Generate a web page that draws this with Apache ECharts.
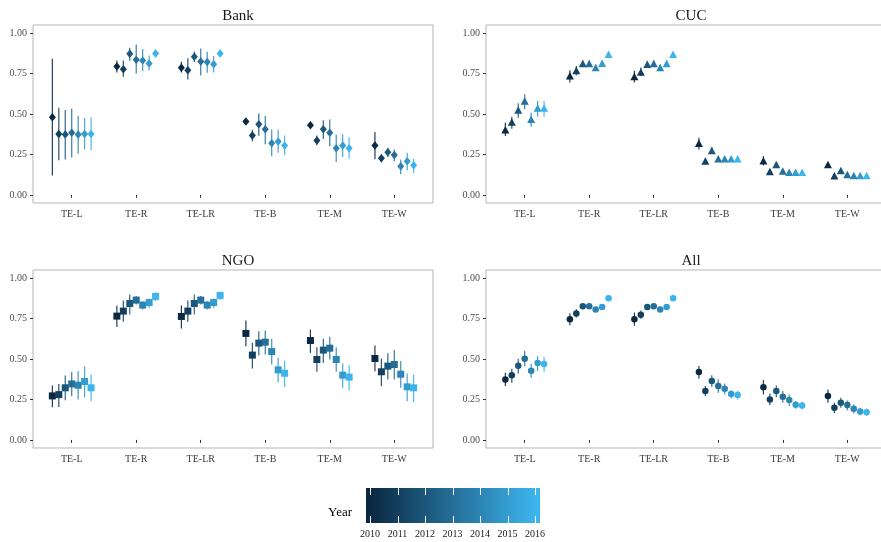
<!DOCTYPE html>
<html><head><meta charset="utf-8">
<script src="https://cdn.jsdelivr.net/npm/echarts@6/dist/echarts.min.js"></script>
<style>html,body{margin:0;padding:0;background:#fff}#c{width:881px;height:542px}</style>
</head><body><div id="c"></div>
<script>
const categories = ['TE-L','TE-R','TE-LR','TE-B','TE-M','TE-W'];
const years = [2010,2011,2012,2013,2014,2015,2016];
const yTicks = [0,0.25,0.5,0.75,1];
const panelNames = ['Bank','CUC','NGO','All'];

// rows = categories, columns = years
const bankMean = [
 [0.480,0.377,0.373,0.384,0.373,0.377,0.377],
 [0.794,0.777,0.872,0.835,0.831,0.812,0.874],
 [0.786,0.771,0.854,0.825,0.821,0.808,0.874],
 [0.454,0.367,0.437,0.406,0.320,0.330,0.305],
 [0.431,0.336,0.406,0.384,0.289,0.305,0.289],
 [0.305,0.227,0.264,0.247,0.177,0.208,0.184]];
const bankLow = [
 [0.120,0.214,0.219,0.231,0.254,0.282,0.276],
 [0.757,0.730,0.829,0.751,0.765,0.769,0.849],
 [0.757,0.713,0.821,0.738,0.755,0.757,0.854],
 [0.439,0.332,0.365,0.313,0.239,0.260,0.245],
 [0.416,0.307,0.346,0.301,0.204,0.235,0.223],
 [0.221,0.202,0.235,0.208,0.128,0.153,0.134]];
const bankHigh = [
 [0.841,0.538,0.524,0.534,0.489,0.476,0.480],
 [0.831,0.831,0.909,0.930,0.901,0.862,0.897],
 [0.823,0.845,0.887,0.905,0.885,0.858,0.899],
 [0.466,0.402,0.503,0.487,0.404,0.402,0.367],
 [0.445,0.367,0.462,0.466,0.373,0.375,0.357],
 [0.388,0.249,0.291,0.280,0.219,0.260,0.223]];

const cucMean = [
 [0.403,0.450,0.525,0.581,0.467,0.537,0.537],
 [0.736,0.769,0.812,0.812,0.787,0.814,0.870],
 [0.731,0.760,0.808,0.812,0.787,0.812,0.870],
 [0.320,0.209,0.275,0.223,0.223,0.223,0.223],
 [0.211,0.145,0.188,0.147,0.140,0.140,0.140],
 [0.188,0.118,0.151,0.126,0.120,0.120,0.120]];
const cucLow = [
 [0.364,0.409,0.477,0.529,0.421,0.483,0.483],
 [0.694,0.740,0.795,0.795,0.770,0.797,0.858],
 [0.694,0.735,0.790,0.795,0.770,0.795,0.858],
 [0.281,0.190,0.254,0.212,0.212,0.212,0.212],
 [0.182,0.130,0.172,0.137,0.131,0.131,0.131],
 [0.172,0.108,0.139,0.117,0.112,0.112,0.112]];
const cucHigh = [
 [0.446,0.483,0.566,0.622,0.508,0.581,0.581],
 [0.771,0.797,0.830,0.830,0.805,0.830,0.882],
 [0.767,0.787,0.826,0.830,0.805,0.830,0.882],
 [0.353,0.225,0.295,0.234,0.234,0.234,0.234],
 [0.240,0.160,0.204,0.157,0.149,0.149,0.149],
 [0.204,0.128,0.163,0.135,0.128,0.128,0.128]];

const ngoMean = [
 [0.272,0.280,0.322,0.346,0.338,0.361,0.322],
 [0.765,0.796,0.843,0.864,0.833,0.849,0.887],
 [0.763,0.796,0.843,0.864,0.833,0.849,0.893],
 [0.658,0.524,0.598,0.604,0.546,0.433,0.412],
 [0.614,0.497,0.555,0.567,0.497,0.400,0.388],
 [0.503,0.421,0.456,0.466,0.406,0.328,0.322]];
const ngoLow = [
 [0.202,0.204,0.245,0.270,0.249,0.264,0.239],
 [0.697,0.730,0.775,0.837,0.806,0.817,0.858],
 [0.689,0.730,0.775,0.837,0.806,0.817,0.864],
 [0.579,0.441,0.522,0.528,0.466,0.357,0.326],
 [0.538,0.421,0.476,0.497,0.421,0.322,0.305],
 [0.425,0.332,0.373,0.373,0.322,0.239,0.235]];
const ngoHigh = [
 [0.336,0.346,0.398,0.419,0.425,0.454,0.404],
 [0.829,0.862,0.899,0.889,0.858,0.874,0.911],
 [0.831,0.862,0.899,0.889,0.858,0.874,0.915],
 [0.738,0.600,0.672,0.676,0.625,0.507,0.491],
 [0.682,0.573,0.625,0.637,0.573,0.472,0.462],
 [0.584,0.503,0.536,0.555,0.487,0.410,0.404]];

const allMean = [
 [0.374,0.399,0.459,0.502,0.428,0.475,0.469],
 [0.746,0.781,0.826,0.826,0.806,0.822,0.876],
 [0.746,0.773,0.822,0.826,0.806,0.822,0.876],
 [0.419,0.302,0.364,0.333,0.316,0.283,0.277],
 [0.326,0.250,0.302,0.267,0.246,0.217,0.213],
 [0.271,0.198,0.229,0.215,0.192,0.176,0.171]];
const allLow = [
 [0.333,0.353,0.411,0.455,0.384,0.426,0.421],
 [0.709,0.756,0.812,0.812,0.794,0.810,0.866],
 [0.705,0.748,0.808,0.812,0.794,0.810,0.866],
 [0.380,0.271,0.329,0.291,0.281,0.256,0.250],
 [0.281,0.215,0.264,0.229,0.209,0.192,0.190],
 [0.229,0.165,0.198,0.184,0.163,0.153,0.149]];
const allHigh = [
 [0.415,0.440,0.502,0.550,0.471,0.519,0.512],
 [0.783,0.808,0.840,0.840,0.818,0.834,0.886],
 [0.787,0.800,0.836,0.840,0.818,0.834,0.886],
 [0.457,0.333,0.399,0.374,0.349,0.308,0.302],
 [0.370,0.287,0.337,0.302,0.281,0.240,0.236],
 [0.312,0.229,0.260,0.244,0.219,0.198,0.194]];

const panelData = [
  {mean: bankMean, low: bankLow, high: bankHigh, symbol: 'diamond', size: [7, 8.5]},
  {mean: cucMean, low: cucLow, high: cucHigh, symbol: 'triangle', size: [8, 7.5]},
  {mean: ngoMean, low: ngoLow, high: ngoHigh, symbol: 'rect', size: [7, 7]},
  {mean: allMean, low: allLow, high: allHigh, symbol: 'circle', size: 6.5}
];

const LOW = [11, 40, 66], HIGH = [60, 180, 236];
function colorAt(t) {
  const c = LOW.map((v, i) => Math.round(v + (HIGH[i] - v) * t));
  return 'rgb(' + c.join(',') + ')';
}
const yearColors = years.map((y, i) => colorAt(i / (years.length - 1)));

const FONT = 'Liberation Serif';
const gridPos = [
  {left: 33, top: 25}, {left: 486, top: 25},
  {left: 33, top: 270}, {left: 486, top: 270}
];
const W = 400, H = 178;
const dodge = 0.1;

const grids = [], xAxes = [], yAxes = [], series = [], titles = [];
panelData.forEach((p, gi) => {
  const g = gridPos[gi];
  grids.push({left: g.left, top: g.top, width: W, height: H, show: true,
    borderColor: '#b5b5b5', borderWidth: 1, backgroundColor: '#fff', containLabel: false,
    outerBoundsMode: 'none'});
  titles.push({text: panelNames[gi], left: g.left + W / 2, top: g.top - 21, textAlign: 'center',
    textStyle: {fontFamily: FONT, fontSize: 15, fontWeight: 'normal', color: '#1a1a1a'}});
  xAxes.push({type: 'value', gridIndex: gi, min: 0.4, max: 6.6,
    axisLine: {show: false}, splitLine: {show: false},
    axisTick: {show: true, length: 3, customValues: categories.map((c, i) => i + 1), lineStyle: {color: '#333', width: 1}},
    axisLabel: {customValues: categories.map((c, i) => i + 1), margin: 6,
      formatter: v => categories[Math.round(v) - 1] || '',
      fontFamily: FONT, fontSize: 10, color: '#3a3a3a'}});
  yAxes.push({type: 'value', gridIndex: gi, min: -0.05, max: 1.05,
    axisLine: {show: false}, splitLine: {show: false},
    axisTick: {show: true, length: 3, customValues: yTicks, lineStyle: {color: '#333', width: 1}},
    axisLabel: {customValues: yTicks, margin: 6, formatter: v => v.toFixed(2),
      fontFamily: FONT, fontSize: 10, color: '#4d4d4d'}});
  const bars = [], pts = [];
  categories.forEach((c, ci) => {
    years.forEach((yr, yi) => {
      const x = ci + 1 + (yi - (years.length - 1) / 2) * dodge;
      bars.push([x, p.low[ci][yi], p.high[ci][yi], yi]);
      pts.push([x, p.mean[ci][yi], yi]);
    });
  });
  series.push({type: 'custom', xAxisIndex: gi, yAxisIndex: gi, data: bars, silent: true,
    encode: {x: 0, y: [1, 2]},
    renderItem: (params, api) => {
      const a = api.coord([api.value(0), api.value(1)]);
      const b = api.coord([api.value(0), api.value(2)]);
      return {type: 'line', shape: {x1: a[0], y1: a[1], x2: b[0], y2: b[1]},
        style: {stroke: yearColors[api.value(3)], lineWidth: 1.2, opacity: 0.9}};
    }});
  series.push({type: 'scatter', xAxisIndex: gi, yAxisIndex: gi, data: pts, silent: true,
    symbol: p.symbol, symbolSize: p.size,
    itemStyle: {color: prm => yearColors[prm.data[2]], opacity: 1}});
});

// legend (colour bar)
const barX = 366, barY = 488, barW = 174, barH = 35;
const t0 = 370, t1 = 535;
const legX = yr => t0 + (yr - years[0]) / (years[years.length - 1] - years[0]) * (t1 - t0);
const stops = years.map((yr, i) => ({offset: (legX(yr) - barX) / barW, color: yearColors[i]}));
stops.unshift({offset: 0, color: yearColors[0]});
stops.push({offset: 1, color: yearColors[years.length - 1]});
const graphic = [
  {type: 'rect', shape: {x: barX, y: barY, width: barW, height: barH},
    style: {fill: new echarts.graphic.LinearGradient(0, 0, 1, 0, stops)}},
  {type: 'text', style: {text: 'Year', x: 352, y: 513, align: 'right', verticalAlign: 'middle',
    font: '13px "Liberation Serif"', fill: '#000'}}
];
years.forEach(yr => {
  const x = Math.round(legX(yr)) + 0.5;
  graphic.push({type: 'line', shape: {x1: x, y1: barY, x2: x, y2: barY + 7}, style: {stroke: '#fff', lineWidth: 1}});
  graphic.push({type: 'line', shape: {x1: x, y1: barY + barH - 7, x2: x, y2: barY + barH}, style: {stroke: '#fff', lineWidth: 1}});
  graphic.push({type: 'text', style: {text: String(yr), x: legX(yr), y: 534, align: 'center', verticalAlign: 'middle',
    font: '10px "Liberation Serif"', fill: '#1a1a1a'}});
});

const chart = echarts.init(document.getElementById('c'), null, {renderer: 'canvas'});
chart.setOption({
  animation: false,
  backgroundColor: '#fff',
  title: titles,
  grid: grids,
  xAxis: xAxes,
  yAxis: yAxes,
  series: series,
  graphic: graphic
});
</script>
</body></html>
